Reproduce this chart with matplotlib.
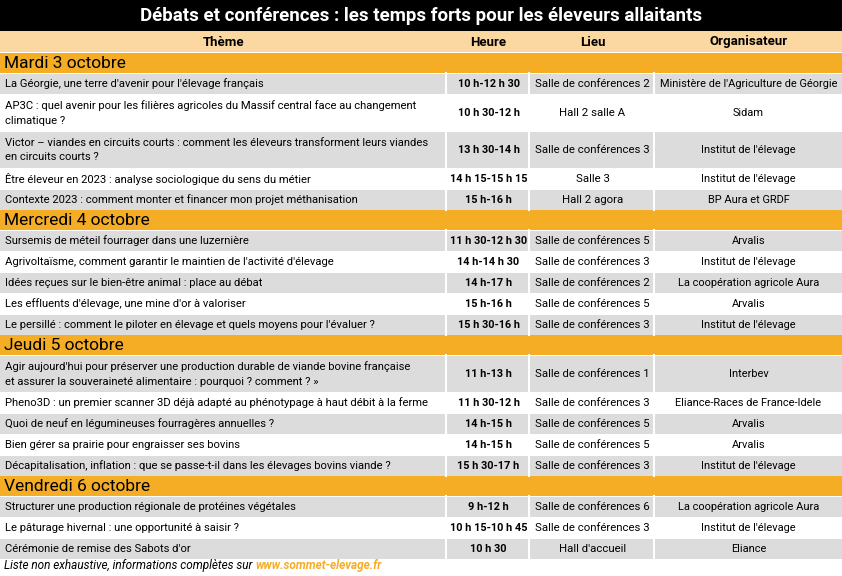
import matplotlib
matplotlib.use('Agg')
import matplotlib.pyplot as plt
from matplotlib.patches import Rectangle

plt.rcParams['font.family'] = ['Roboto', 'DejaVu Sans']

title = "Débats et conférences : les temps forts pour les éleveurs allaitants"
headers = ["Thème", "Heure", "Lieu", "Organisateur"]

days = ["Mardi 3 octobre", "Mercredi 4 octobre", "Jeudi 5 octobre", "Vendredi 6 octobre"]
themes = [
    ["La Géorgie, une terre d'avenir pour l'élevage français",
     "AP3C : quel avenir pour les filières agricoles du Massif central face au changement\nclimatique ?",
     "Victor – viandes en circuits courts : comment les éleveurs transforment leurs viandes\nen circuits courts ?",
     "Être éleveur en 2023 : analyse sociologique du sens du métier",
     "Contexte 2023 : comment monter et financer mon projet méthanisation"],
    ["Sursemis de méteil fourrager dans une luzernière",
     "Agrivoltaïsme, comment garantir le maintien de l'activité d'élevage",
     "Idées reçues sur le bien-être animal : place au débat",
     "Les effluents d'élevage, une mine d'or à valoriser",
     "Le persillé : comment le piloter en élevage et quels moyens pour l'évaluer ?"],
    ["Agir aujourd'hui pour préserver une production durable de viande bovine française\net assurer la souveraineté alimentaire : pourquoi ? comment ? »",
     "Pheno3D : un premier scanner 3D déjà adapté au phénotypage à haut débit à la ferme",
     "Quoi de neuf en légumineuses fourragères annuelles ?",
     "Bien gérer sa prairie pour engraisser ses bovins",
     "Décapitalisation, inflation : que se passe-t-il dans les élevages bovins viande ?"],
    ["Structurer une production régionale de protéines végétales",
     "Le pâturage hivernal : une opportunité à saisir ?",
     "Cérémonie de remise des Sabots d'or"],
]
heures = [
    ["10 h-12 h 30", "10 h 30-12 h", "13 h 30-14 h", "14 h 15-15 h 15", "15 h-16 h"],
    ["11 h 30-12 h 30", "14 h-14 h 30", "14 h-17 h", "15 h-16 h", "15 h 30-16 h"],
    ["11 h-13 h", "11 h 30-12 h", "14 h-15 h", "14 h-15 h", "15 h 30-17 h"],
    ["9 h-12 h", "10 h 15-10 h 45", "10 h 30"],
]
lieux = [
    ["Salle de conférences 2", "Hall 2 salle A", "Salle de conférences 3", "Salle 3", "Hall 2 agora"],
    ["Salle de conférences 5", "Salle de conférences 3", "Salle de conférences 2",
     "Salle de conférences 5", "Salle de conférences 3"],
    ["Salle de conférences 1", "Salle de conférences 3", "Salle de conférences 5",
     "Salle de conférences 5", "Salle de conférences 3"],
    ["Salle de conférences 6", "Salle de conférences 3", "Hall d'accueil"],
]
organisateurs = [
    ["Ministère de l'Agriculture de Géorgie", "Sidam", "Institut de l'élevage",
     "Institut de l'élevage", "BP Aura et GRDF"],
    ["Arvalis", "Institut de l'élevage", "La coopération agricole Aura", "Arvalis",
     "Institut de l'élevage"],
    ["Interbev", "Eliance-Races de France-Idele", "Arvalis", "Arvalis", "Institut de l'élevage"],
    ["La coopération agricole Aura", "Institut de l'élevage", "Eliance"],
]
footnote = "Liste non exhaustive, informations complètes sur "
url = "www.sommet-elevage.fr"

W, H = 842, 576
col_x = [0, 447, 530, 655, 842]
ORANGE = '#F6AD26'
PEACH = '#FBD8A2'
GRAY = '#DCDCDC'

fig = plt.figure(figsize=(W / 100, H / 100), dpi=100)
ax = fig.add_axes([0, 0, 1, 1])
ax.set_xlim(0, W)
ax.set_ylim(H, 0)
ax.axis('off')

def rect(x0, y0, x1, y1, color):
    ax.add_patch(Rectangle((x0, y0), x1 - x0, y1 - y0, facecolor=color, edgecolor='none'))

rect(0, 0, W, 31, 'black')
ax.text(W / 2, 16, title, color='white', fontsize=13.5, fontweight='bold', ha='center', va='center')

y = 31
rect(0, y, W, y + 21, PEACH)
for i, h in enumerate(headers):
    ax.text((col_x[i] + col_x[i + 1]) / 2, y + 11, h, fontsize=9.5, fontweight='bold',
            ha='center', va='center')
y += 22

for d, day in enumerate(days):
    rect(0, y, W, y + 20, ORANGE)
    ax.text(4, y + 10.5, day, fontsize=12.5, ha='left', va='center')
    y += 20
    for r, th in enumerate(themes[d]):
        h = 37 if '\n' in th else 21
        if r % 2 == 0:
            rect(0, y + 1, W, y + h, GRAY)
        for c in range(1, 4):
            ax.plot([col_x[c] - 1, col_x[c] - 1], [y, y + h], color='white', lw=1.5)
        cy = y + h / 2 + 0.5
        ax.text(5, cy, th, fontsize=8.1, ha='left', va='center', linespacing=1.6)
        ax.text((col_x[1] + col_x[2]) / 2, cy, heures[d][r], fontsize=7.8, fontweight='bold',
                ha='center', va='center')
        ax.text((col_x[2] + col_x[3]) / 2, cy, lieux[d][r], fontsize=8.2, ha='center', va='center')
        ax.text((col_x[3] + col_x[4]) / 2, cy, organisateurs[d][r], fontsize=7.9,
                ha='center', va='center')
        y += h

t = ax.text(4, y + 7, footnote, fontsize=8.5, style='italic', ha='left', va='center')
fig.canvas.draw()
bb = t.get_window_extent()
ax.text(bb.x1, y + 7, url, fontsize=8.5, style='italic',
        fontweight='bold', color=ORANGE, ha='left', va='center')

fig.savefig('out.png', dpi=100, facecolor='white')
